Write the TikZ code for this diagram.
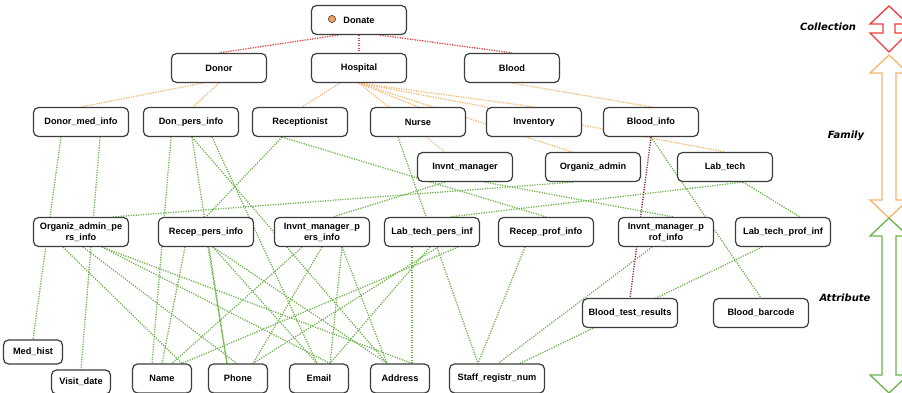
\documentclass[tikz,border=0pt]{standalone}
\usepackage{fontspec}
\setmainfont{Liberation Sans}
\newfontfamily\levelfont{DejaVu Sans}
\usepackage{xcolor}
\usepackage{tikz}
\usetikzlibrary{backgrounds}
\definecolor{dgred}{HTML}{EE3B3B}
\definecolor{dgorange}{HTML}{F9B46E}
\definecolor{dggreen}{HTML}{6CB34A}
\definecolor{dgpurple}{HTML}{8A1C4E}
\definecolor{dgbox}{HTML}{3C3C3C}
\definecolor{dgdot}{HTML}{F0A35C}

\tikzset{
  box/.style={draw=dgbox, line width=1.2pt, rounded corners=5pt, fill=white,
    minimum width=95pt, minimum height=29pt, inner sep=1pt, align=center,
    font=\fontsize{9.2}{11}\selectfont\bfseries},
  smallbox/.style={box, minimum width=59pt, minimum height=24pt},
  lnk/.style={line width=1.3pt, dash pattern=on 1.2pt off 1.3pt},
  coll/.style={lnk, dgred},
  fam/.style={lnk, dgorange},
  attr/.style={lnk, dggreen},
  test/.style={lnk, dgpurple},
  level/.style={font=\levelfont\fontsize{10}{12}\selectfont\bfseries\itshape},
  band/.style={line width=1.3pt, fill=white}
}

\begin{document}
\begin{tikzpicture}[x=1pt,y=-1pt]
  \useasboundingbox (0,0) rectangle (902,393);

  % collection
  \node[box] (donate) at (359,20) {Donate};
  \fill[dgdot, draw=dgbox, line width=0.6pt] (332,19) circle[radius=3.6pt];

  % families
  \node[box] (donor) at (219,68) {Donor};
  \node[box] (hospital) at (359,68) {Hospital};
  \node[box] (blood) at (512,68) {Blood};

  \node[box] (donormed) at (81,122) {Donor\_med\_info};
  \node[box] (donpers) at (191,122) {Don\_pers\_info};
  \node[box] (recept) at (300,122) {Receptionist};
  \node[box] (nurse) at (418,122) {Nurse};
  \node[box] (invent) at (534,122) {Inventory};
  \node[box] (bloodinfo) at (651,122) {Blood\_info};

  \node[box] (invmgr) at (465,167) {Invnt\_manager};
  \node[box] (orgadmin) at (593,167) {Organiz\_admin};
  \node[box] (labtech) at (725,167) {Lab\_tech};

  % attributes
  \node[box] (orgpers) at (81,232) {Organiz\_admin\_pe\\rs\_info};
  \node[box] (receppers) at (206,232) {Recep\_pers\_info};
  \node[box] (invpers) at (322,232) {Invnt\_manager\_p\\ers\_info};
  \node[box] (labpers) at (432,232) {Lab\_tech\_pers\_inf};
  \node[box] (recepprof) at (546,232) {Recep\_prof\_info};
  \node[box] (invprof) at (666,232) {Invnt\_manager\_p\\rof\_info};
  \node[box] (labprof) at (783,232) {Lab\_tech\_prof\_inf};

  \node[box] (bloodtest) at (630,313) {Blood\_test\_results};
  \node[box] (barcode) at (761,313) {Blood\_barcode};

  \node[smallbox] (medhist) at (33,352) {Med\_hist};
  \node[smallbox] (visit) at (81,382) {Visit\_date};
  \node[smallbox, minimum height=29pt] (name) at (162,378.5) {Name};
  \node[smallbox, minimum height=29pt] (phone) at (238,378.5) {Phone};
  \node[smallbox, minimum height=29pt] (email) at (319,378.5) {Email};
  \node[smallbox, minimum height=29pt] (address) at (400,378.5) {Address};
  \node[box] (staff) at (497,378.5) {Staff\_registr\_num};

  \begin{scope}[on background layer]
    % donate -> families
    \draw[coll] ([xshift=-21pt]donate.south) -- (donor.north);
    \draw[coll] (donate.south) -- (hospital.north);
    \draw[coll] ([xshift=21pt]donate.south) -- (blood.north);

    % families -> sub families
    \draw[fam] ([xshift=-16pt]donor.south) -- (donormed.north);
    \draw[fam] (donor.south) -- ([xshift=2pt]donpers.north);
    \draw[fam] ([xshift=-19pt]hospital.south) -- ([xshift=2pt]recept.north);
    \draw[fam] (hospital.south) -- (nurse.north);
    \draw[fam] (hospital.south) -- ([xshift=-20pt]invmgr.north);
    \draw[fam] (hospital.south) -- (invent.north);
    \draw[fam] (hospital.south) -- ([xshift=-21pt]orgadmin.north);
    \draw[fam] (hospital.south) -- (labtech.north);
    \draw[fam] (blood.south) -- (bloodinfo.north);

    % sub families -> attributes
    \draw[attr] ([xshift=-20pt]donormed.south) -- (medhist.north);
    \draw[attr] ([xshift=19pt]donormed.south) -- (visit.north);
    \draw[attr] ([xshift=-18pt]recept.south) -- (receppers.north);
    \draw[attr] ([xshift=-18pt]recept.south) -- (recepprof.north);
    \draw[attr] ([xshift=-20pt]nurse.south) -- ([xshift=-19pt]staff.north);
    \draw[attr] ([xshift=-20pt]invmgr.south) -- ([xshift=11pt]invpers.north);
    \draw[attr] ([xshift=20pt]invmgr.south) -- ([xshift=7pt]invprof.north);
    \draw[attr] ([xshift=-20pt]orgadmin.south) -- ([xshift=32pt]orgpers.north);
    \draw[attr] ([xshift=18pt]labtech.south) -- ([xshift=18pt]labpers.north);
    \draw[attr] ([xshift=18pt]labtech.south) -- ([xshift=17pt]labprof.north);
    \draw[attr] (bloodinfo.south) -- (barcode.north);
    \draw[test] (bloodinfo.south) -- (bloodtest.north);

    % personal info -> contact attributes
    \draw[attr] ([xshift=-20pt]donpers.south) -- ([xshift=-10pt]name.north);
    \draw[attr] ([xshift=1pt]donpers.south) -- ([xshift=-11pt]phone.north);
    \draw[attr] ([xshift=21pt]donpers.south) -- ([xshift=-2pt]email.north);
    \draw[attr] ([xshift=1pt]donpers.south) -- ([xshift=-13pt]address.north);
    \draw[attr] ([xshift=-18pt]orgpers.south) -- ([xshift=20pt]name.north);
    \draw[attr] ([xshift=2pt]orgpers.south) -- ([xshift=-1pt]phone.north);
    \draw[attr] ([xshift=21pt]orgpers.south) -- ([xshift=11pt]email.north);
    \draw[attr] ([xshift=21pt]orgpers.south) -- ([xshift=12pt]address.north);
    \draw[attr] ([xshift=-21pt]receppers.south) -- (name.north);
    \draw[attr] ([xshift=2pt]receppers.south) -- ([xshift=-11pt]phone.north);
    \draw[attr] ([xshift=7pt]receppers.south) -- ([xshift=-2pt]email.north);
    \draw[attr] ([xshift=7pt]receppers.south) -- ([xshift=-13pt]address.north);
    \draw[attr] ([xshift=-20pt]invpers.south) -- ([xshift=10pt]name.north);
    \draw[attr] (invpers.south) -- ([xshift=15pt]phone.north);
    \draw[attr] ([xshift=20pt]invpers.south) -- ([xshift=11pt]email.north);
    \draw[attr] ([xshift=20pt]invpers.south) -- ([xshift=-13pt]address.north);
    \draw[attr] ([xshift=26pt]labpers.south) -- ([xshift=20pt]name.north);
    \draw[attr] ([xshift=6pt]labpers.south) -- ([xshift=15pt]phone.north);
    \draw[attr] ([xshift=-2pt]labpers.south) -- ([xshift=11pt]email.north);
    \draw[attr] ([xshift=-20pt]labpers.south) -- ([xshift=12pt]address.north);

    % professional info -> registration number
    \draw[attr] ([xshift=-21pt]recepprof.south) -- ([xshift=-19pt]staff.north);
    \draw[attr] ([xshift=-14pt]invprof.south) -- ([xshift=1pt]staff.north);
    \draw[attr] ([xshift=-21pt]labprof.south) -- ([xshift=23pt]staff.north);
  \end{scope}

  % level bands
  \node[level] (lcoll) at (828,27) {Collection};
  \node[level] (lfam) at (846,136) {Family};
  \node[level] (lattr) at (845,298) {Attribute};
  \draw[band, draw=dgred] (889,6) -- (870,24) -- (883,24) -- (883,33) -- (870,33) -- (889,52)
    -- (908,33) -- (895,33) -- (895,24) -- (908,24) -- cycle;
  \draw[band, draw=dgorange] (889,55) -- (870,73) -- (882,73) -- (882,200) -- (870,200) -- (889,218)
    -- (908,200) -- (896,200) -- (896,73) -- (908,73) -- cycle;
  \draw[band, draw=dggreen] (889,218) -- (870,236) -- (882,236) -- (882,375) -- (870,375) -- (889,393)
    -- (908,375) -- (896,375) -- (896,236) -- (908,236) -- cycle;
\end{tikzpicture}
\end{document}
